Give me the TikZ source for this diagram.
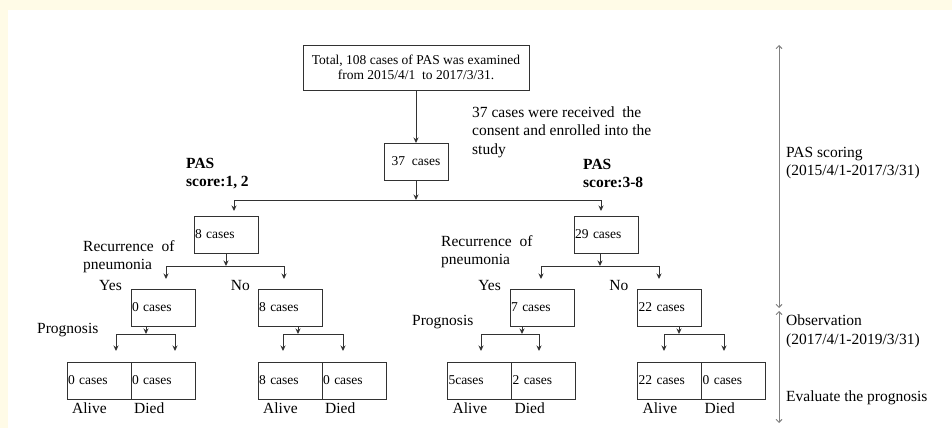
\documentclass[tikz,border=0pt]{standalone}
\usepackage{fontspec}
\setmainfont{Liberation Serif}
\usepackage{tikz}
\usetikzlibrary{arrows,arrows.meta,positioning}
\definecolor{cream}{RGB}{255,251,231}
\definecolor{linegray}{RGB}{50,50,50}
\tikzstyle{cbox}=[draw=linegray, line width=0.9pt, outer sep=0pt, minimum width=64pt, minimum height=37pt, inner sep=1pt, font=\fontsize{13.5}{15.5}\selectfont]
\tikzstyle{lbox}=[cbox, text width=62pt, align=left]
\tikzstyle{lbl}=[inner sep=0pt, align=left, font=\fontsize{15.5}{18.5}\selectfont]
\tikzstyle{flow}=[draw=linegray, line width=0.9pt, ->]
\tikzstyle{phase}=[draw=gray, line width=0.9pt, {Straight Barb[length=3pt,width=6pt]}-{Straight Barb[length=3pt,width=6pt]}]

\begin{document}
\begin{tikzpicture}[x=1pt, y=-1pt, >={Stealth[length=5.5pt,width=5pt]}]
\useasboundingbox[fill=cream] (0,0) rectangle (952,428);
\fill[white] (8,10) rectangle (952,428);

% boxes
\node[cbox, minimum width=226pt, minimum height=45pt, align=center] (total) at (416,67.5) {Total, 108 cases of PAS was examined\\from 2015/4/1 \ to 2017/3/31.};
\node[cbox] (n37) at (416,161.5) {37 \ cases};
\node[lbox] (c8) at (226,234.5) {8 cases};
\node[lbox] (c29) at (606,234.5) {29 cases};
\node[lbox] (y0) at (163,307.5) {0 cases};
\node[lbox] (n8) at (290,307.5) {8 cases};
\node[lbox] (y7) at (542,307.5) {7 cases};
\node[lbox] (n22) at (669.5,307.5) {22 cases};
\node[lbox] (a0) at (99,380.5) {0 cases};
\node[lbox, right=0pt of a0] (d0) {0 cases};
\node[lbox] (a1) at (290,380.5) {8 cases};
\node[lbox, right=0pt of a1] (d1) {0 cases};
\node[lbox] (a2) at (479.5,380.5) {5cases};
\node[lbox, right=0pt of a2] (d2) {2 cases};
\node[lbox] (a3) at (669.5,380.5) {22 cases};
\node[lbox, right=0pt of a3] (d3) {0 cases};

% branch points
\coordinate (j0) at (416,200);
\coordinate (j0a) at (234,211);
\coordinate (j0b) at (601,211);
\coordinate (j1) at (226,266);
\coordinate (j1a) at (166,279);
\coordinate (j1b) at (284,279);
\coordinate (j2) at (600,266);
\coordinate (j2a) at (541,279);
\coordinate (j2b) at (659,279);
\coordinate (j3) at (146,334);
\coordinate (j3a) at (116,351);
\coordinate (j3b) at (175,351);
\coordinate (j4) at (298,334);
\coordinate (j4a) at (283,351);
\coordinate (j4b) at (343,351);
\coordinate (j5) at (522,334);
\coordinate (j5a) at (481,351);
\coordinate (j5b) at (539,351);
\coordinate (j6) at (679,334);
\coordinate (j6a) at (664,351);
\coordinate (j6b) at (724,351);

\draw[flow] (total) -- (n37);
\foreach \p/\j in {n37/j0, c8/j1, c29/j2, y0/j3, n8/j4, y7/j5, n22/j6} {
  \draw[flow] (\p.south -| \j) -- (\j);
  \draw[flow] (\j) -| (\j a);
  \draw[flow] (\j) -| (\j b);
}

% labels
\node[lbl, anchor=west] (note) at (472,132) {37 cases were received \ the\\consent and enrolled into the\\study};
\node[lbl, anchor=west, font=\fontsize{15.5}{18.5}\selectfont\bfseries] (pasl) at (186,173.5) {PAS\\score:1, 2};
\node[lbl, anchor=west, font=\fontsize{15.5}{18.5}\selectfont\bfseries] (pasr) at (583,173.5) {PAS\\score:3-8};
\node[lbl, anchor=west] (recl) at (83,256.5) {Recurrence \ of\\pneumonia};
\node[lbl, anchor=west] (recr) at (441,251.5) {Recurrence \ of\\pneumonia};
\node[lbl, left=9pt of y0.north west, yshift=4pt] (yes0) {Yes};
\node[lbl, left=8pt of n8.north west, yshift=4pt] (no0) {No};
\node[lbl, left=9pt of y7.north west, yshift=4pt] (yes1) {Yes};
\node[lbl, left=9pt of n22.north west, yshift=4pt] (no1) {No};
\node[lbl, anchor=west] (progl) at (37,330) {Prognosis};
\node[lbl, anchor=west] (progr) at (412,322) {Prognosis};
\foreach \a/\d in {a0/d0, a1/d1, a2/d2, a3/d3} {
  \node[lbl, below right=4pt and 5pt of \a.south west] {Alive};
  \node[lbl, below right=4pt and 3pt of \d.south west] {Died};
}

% time line
\coordinate (p0) at (779,45);
\coordinate (p1) at (779,308);
\coordinate (p2) at (779,311);
\coordinate (p3) at (779,423);
\draw[phase] (p0) -- (p1);
\draw[phase] (p2) -- (p3);
\node[lbl, anchor=west] (scoring) at (786,163) {PAS scoring\\(2015/4/1-2017/3/31)};
\node[lbl, anchor=west] (observe) at (786,331.5) {Observation\\(2017/4/1-2019/3/31)};
\node[lbl, anchor=west] (evaluate) at (786,398) {Evaluate the prognosis};
\end{tikzpicture}
\end{document}
